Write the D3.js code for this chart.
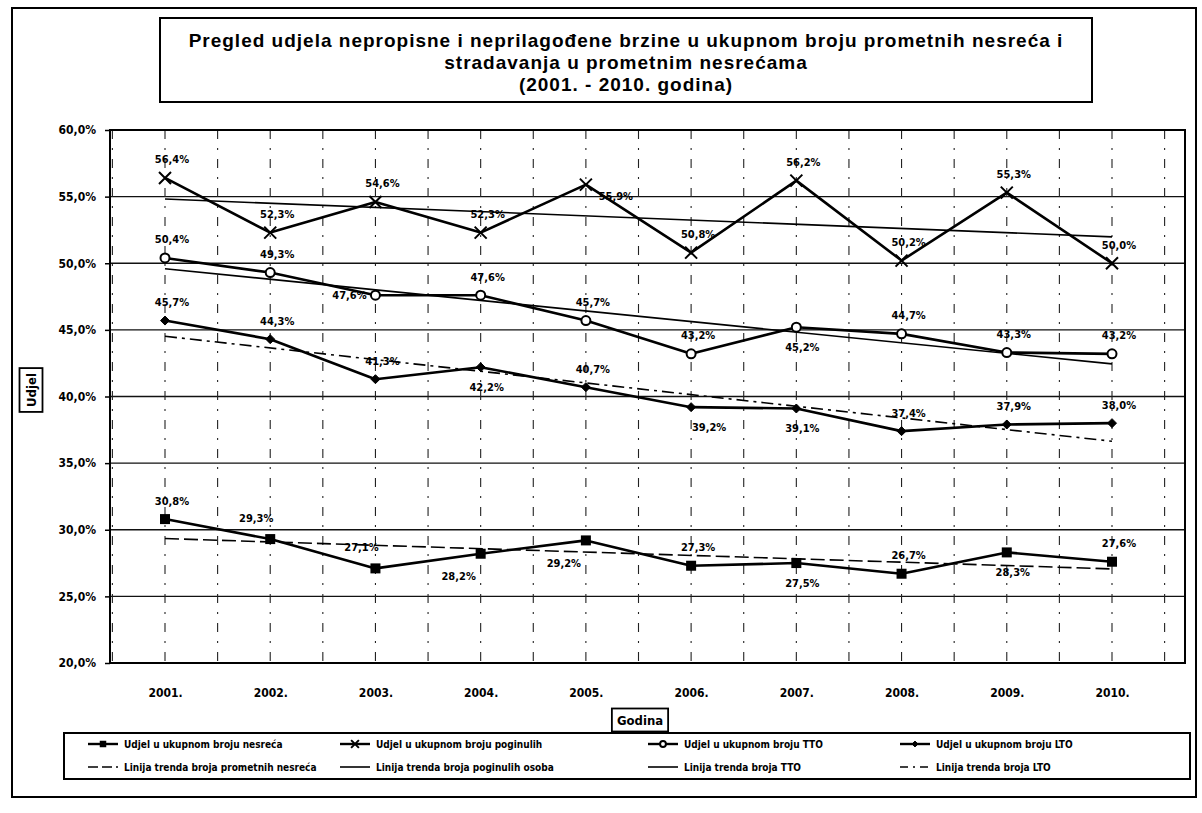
<!DOCTYPE html>
<html>
<head>
<meta charset="utf-8">
<script src="https://cdn.jsdelivr.net/npm/d3@7"></script>
<style>
  html, body { margin: 0; padding: 0; background: #fff; }
  svg { display: block; }
  text { fill: #000; }
</style>
</head>
<body>
<svg id="chart" width="1202" height="813"></svg>
<script>
// ---------------- DATA ----------------
const years = ["2001.", "2002.", "2003.", "2004.", "2005.", "2006.", "2007.", "2008.", "2009.", "2010."];
const nesrece  = [30.8, 29.3, 27.1, 28.2, 29.2, 27.3, 27.5, 26.7, 28.3, 27.6];   // Udjel u ukupnom broju nesreća
const poginuli = [56.4, 52.3, 54.6, 52.3, 55.9, 50.8, 56.2, 50.2, 55.3, 50.0];   // Udjel u ukupnom broju poginulih
const tto      = [50.4, 49.3, 47.6, 47.6, 45.7, 43.2, 45.2, 44.7, 43.3, 43.2];   // Udjel u ukupnom broju TTO
const lto      = [45.7, 44.3, 41.3, 42.2, 40.7, 39.2, 39.1, 37.4, 37.9, 38.0];   // Udjel u ukupnom broju LTO
const yTicks   = [20, 25, 30, 35, 40, 45, 50, 55, 60];

const titleLines = [
  "Pregled udjela nepropisne i neprilagođene brzine u ukupnom broju prometnih nesreća i",
  "stradavanja u prometnim nesrećama",
  "(2001. - 2010. godina)"
];
const legendLabels = [
  "Udjel u ukupnom broju nesreća",
  "Udjel u ukupnom broju poginulih",
  "Udjel u ukupnom broju TTO",
  "Udjel u ukupnom broju LTO",
  "Linija trenda broja prometnih nesreća",
  "Linija trenda broja poginulih osoba",
  "Linija trenda broja TTO",
  "Linija trenda broja LTO"
];

// ---------------- LAYOUT (not data) ----------------
const plot = { left: 110, top: 130, right: 1185, bottom: 663 };
const labelPlacement = {
  nesrece:  ["a", "al", "al", "bl", "bl", "a", "b", "a", "b", "a"],
  poginuli: ["a", "a", "a", "a", "r", "a", "a", "a", "a", "a"],
  tto:      ["a", "a", "l", "a", "a", "a", "b", "a", "a", "a"],
  lto:      ["a", "a", "a", "b", "a", "br", "b", "a", "a", "a"]
};
const offsets = {
  a:  [7, -18], b: [6, 20], al: [-14, -21], bl: [-22, 23],
  l:  [-26, 0], r: [30, 12], br: [18, 20]
};

const svg = d3.select("#chart");
const fmt = d3.formatLocale({ decimal: ",", thousands: ".", grouping: [3], currency: ["", ""] }).format(".1f");
const pct = v => fmt(v) + "%";

const x = d3.scalePoint().domain(years).range([165, 1112]);
const y = d3.scaleLinear().domain([20, 60]).range([plot.bottom, plot.top]);

const labelFont = "'DejaVu Sans Condensed', 'DejaVu Sans', sans-serif";

// outer border
svg.append("rect").attr("x", 12).attr("y", 8).attr("width", 1184).attr("height", 789)
  .attr("fill", "none").attr("stroke", "#000").attr("stroke-width", 2);

// title box
const tb = svg.append("g");
tb.append("rect").attr("x", 160).attr("y", 18).attr("width", 932).attr("height", 84)
  .attr("fill", "#fff").attr("stroke", "#000").attr("stroke-width", 2);
tb.selectAll("text").data(titleLines).join("text")
  .attr("x", 626).attr("y", (d, i) => 47 + i * 22)
  .attr("text-anchor", "middle")
  .attr("font-family", "'Liberation Sans', Arial, sans-serif")
  .attr("font-weight", "bold").attr("font-size", 19)
  .attr("letter-spacing", 1)
  .text(d => d);

// horizontal gridlines
svg.append("g").selectAll("line").data(yTicks.filter(t => t > 20 && t < 60)).join("line")
  .attr("x1", plot.left).attr("x2", plot.right)
  .attr("y1", d => y(d)).attr("y2", d => y(d))
  .attr("stroke", "#111").attr("stroke-width", 1.4);

// vertical dash-dot gridlines at every half category step
const step = x.step();
const vLines = [];
years.forEach(yr => { vLines.push(x(yr)); vLines.push(x(yr) + step / 2); });
vLines.unshift(x(years[0]) - step / 2);
svg.append("g").selectAll("line").data(vLines.filter(v => v > plot.left + 2 && v < plot.right - 2)).join("line")
  .attr("x1", d => d).attr("x2", d => d)
  .attr("y1", plot.top).attr("y2", plot.bottom)
  .attr("stroke", "#222").attr("stroke-width", 1.1)
  .attr("stroke-dasharray", "9,9,2,9");

// plot border
svg.append("rect").attr("x", plot.left).attr("y", plot.top)
  .attr("width", plot.right - plot.left).attr("height", plot.bottom - plot.top)
  .attr("fill", "none").attr("stroke", "#000").attr("stroke-width", 2);

// y axis
const yAxis = d3.axisLeft(y).tickValues(yTicks).tickSize(5).tickPadding(9).tickFormat(pct);
const yg = svg.append("g").attr("transform", `translate(${plot.left},0)`).call(yAxis);
yg.select(".domain").remove();
yg.selectAll("line").attr("stroke", "#000").attr("stroke-width", 1.5);
yg.selectAll("text").attr("font-family", labelFont).attr("font-weight", "bold").attr("font-size", 12).attr("fill", "#000");

// x axis labels
const xAxis = d3.axisBottom(x).tickSize(0).tickPadding(25);
const xg = svg.append("g").attr("transform", `translate(0,${plot.bottom})`).call(xAxis);
xg.select(".domain").remove();
xg.selectAll("text").attr("font-family", labelFont).attr("font-weight", "bold").attr("font-size", 12).attr("fill", "#000");

// axis titles
function boxedText(cx, cy, txt, rotate) {
  const g = svg.append("g").attr("transform", `translate(${cx},${cy}) rotate(${rotate})`);
  const t = g.append("text").attr("text-anchor", "middle").attr("dominant-baseline", "central")
    .attr("font-family", labelFont).attr("font-weight", "bold").attr("font-size", 13).text(txt);
  const bb = t.node().getBBox();
  g.insert("rect", "text").attr("x", bb.x - 5).attr("y", bb.y - 4)
    .attr("width", bb.width + 10).attr("height", bb.height + 8)
    .attr("fill", "#fff").attr("stroke", "#000").attr("stroke-width", 1.8);
}
boxedText(31, 390, "Udjel", -90);
boxedText(640, 720, "Godina", 0);

// trend lines (least-squares fit of each series)
function trend(vals) {
  const n = vals.length, xs = d3.range(n);
  const mx = d3.mean(xs), my = d3.mean(vals);
  const b = d3.sum(xs, i => (i - mx) * (vals[i] - my)) / d3.sum(xs, i => (i - mx) ** 2);
  const a = my - b * mx;
  return [[years[0], a], [years[n - 1], a + b * (n - 1)]];
}
const trendDefs = [
  { vals: nesrece,  dash: "14,5" },
  { vals: poginuli, dash: null },
  { vals: tto,      dash: null },
  { vals: lto,      dash: "12,5,3,5" }
];
const tline = d3.line().x(d => x(d[0])).y(d => y(d[1]));
trendDefs.forEach(t => {
  svg.append("path").attr("d", tline(trend(t.vals)))
    .attr("fill", "none").attr("stroke", "#000").attr("stroke-width", 1.6)
    .attr("stroke-dasharray", t.dash);
});

// marker drawing
function drawMarker(g, type, cx, cy, scale = 1) {
  if (type === "square") {
    const s = 10 * scale;
    g.append("rect").attr("x", cx - s / 2).attr("y", cy - s / 2).attr("width", s).attr("height", s).attr("fill", "#000");
  } else if (type === "x") {
    const s = 6 * scale;
    g.append("path").attr("d", `M${cx - s},${cy - s}L${cx + s},${cy + s}M${cx - s},${cy + s}L${cx + s},${cy - s}`)
      .attr("stroke", "#000").attr("stroke-width", 2);
  } else if (type === "circle") {
    g.append("circle").attr("cx", cx).attr("cy", cy).attr("r", 4.5 * scale)
      .attr("fill", "#fff").attr("stroke", "#000").attr("stroke-width", 2);
  } else if (type === "diamond") {
    const s = 4.5 * scale;
    g.append("path").attr("d", `M${cx},${cy - s}L${cx + s},${cy}L${cx},${cy + s}L${cx - s},${cy}Z`)
      .attr("fill", "#000").attr("stroke", "#000").attr("stroke-width", 1);
  }
}

const seriesDefs = [
  { key: "nesrece",  vals: nesrece,  marker: "square" },
  { key: "poginuli", vals: poginuli, marker: "x" },
  { key: "tto",      vals: tto,      marker: "circle" },
  { key: "lto",      vals: lto,      marker: "diamond" }
];
const sline = d3.line().x((d, i) => x(years[i])).y(d => y(d));
seriesDefs.forEach(s => {
  const g = svg.append("g");
  g.append("path").attr("d", sline(s.vals)).attr("fill", "none")
    .attr("stroke", "#000").attr("stroke-width", 2.6).attr("stroke-linejoin", "round");
  s.vals.forEach((v, i) => drawMarker(g, s.marker, x(years[i]), y(v)));
});

// data labels
seriesDefs.forEach(s => {
  const g = svg.append("g");
  s.vals.forEach((v, i) => {
    const off = offsets[labelPlacement[s.key][i]];
    g.append("text")
      .attr("x", x(years[i]) + off[0]).attr("y", y(v) + off[1])
      .attr("text-anchor", "middle").attr("dominant-baseline", "central")
      .attr("font-family", labelFont).attr("font-weight", "bold").attr("font-size", 11)
      .text(pct(v));
  });
});

// legend
const lg = svg.append("g");
lg.append("rect").attr("x", 64).attr("y", 733).attr("width", 1126).attr("height", 46)
  .attr("fill", "#fff").attr("stroke", "#000").attr("stroke-width", 2);
const colX = [88, 340, 648, 900];
const rowY = [744, 767];
const legendStyles = [
  { marker: "square", dash: null, w: 2.4 },
  { marker: "x", dash: null, w: 2.4 },
  { marker: "circle", dash: null, w: 2.4 },
  { marker: "diamond", dash: null, w: 2.4 },
  { marker: null, dash: "10,4", w: 1.6 },
  { marker: null, dash: null, w: 1.6 },
  { marker: null, dash: null, w: 1.6 },
  { marker: null, dash: "8,5,2,5", w: 1.6 }
];
legendLabels.forEach((lab, i) => {
  const cx = colX[i % 4], cy = rowY[Math.floor(i / 4)];
  lg.append("line").attr("x1", cx).attr("x2", cx + 30).attr("y1", cy).attr("y2", cy)
    .attr("stroke", "#000").attr("stroke-width", legendStyles[i].w)
    .attr("stroke-dasharray", legendStyles[i].dash);
  if (legendStyles[i].marker) drawMarker(lg, legendStyles[i].marker, cx + 15, cy, 0.65);
  lg.append("text").attr("x", cx + 36).attr("y", cy).attr("dominant-baseline", "central")
    .attr("font-family", labelFont).attr("font-weight", "bold").attr("font-size", 10)
    .text(lab);
});
</script>
</body>
</html>
